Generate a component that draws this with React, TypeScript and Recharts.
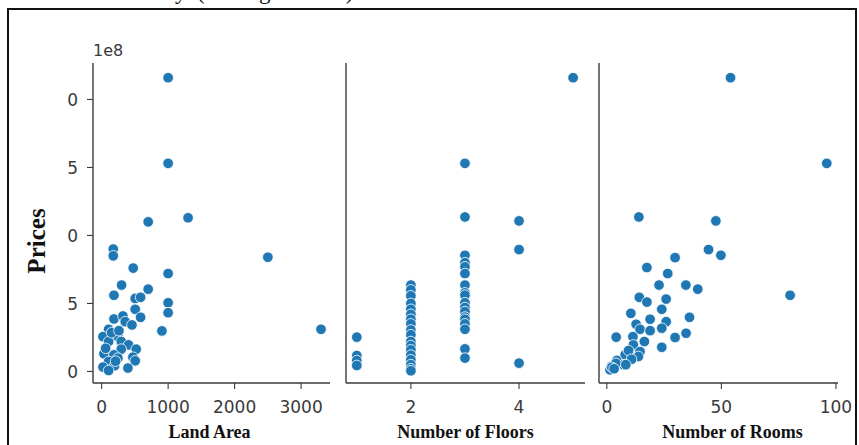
import React from 'react';
import { ScatterChart, Scatter, XAxis, YAxis } from 'recharts';

// Prices are in units of 1e8
const landArea = [1000, 1000, 1300, 700, 175, 175, 2500, 475, 1000, 300, 700, 185, 505, 586, 1000, 505, 1000, 586, 185, 320, 355, 456, 907, 3300, 105, 20, 245, 105, 295, 405, 520, 295, 35, 185, 470, 245, 105, 505, 20, 195, 395, 105, 150, 260, 60, 210];
const landPrice = [2.16, 1.53, 1.13, 1.1, 0.9, 0.85, 0.84, 0.76, 0.72, 0.635, 0.605, 0.56, 0.537, 0.545, 0.505, 0.457, 0.432, 0.398, 0.386, 0.408, 0.366, 0.342, 0.298, 0.31, 0.31, 0.256, 0.256, 0.22, 0.22, 0.195, 0.164, 0.164, 0.13, 0.122, 0.105, 0.098, 0.073, 0.078, 0.032, 0.042, 0.025, 0.007, 0.285, 0.3, 0.17, 0.075];

const floorCount = [1, 1, 1, 1, 2, 2, 2, 2, 2, 2, 2, 2, 2, 2, 2, 2, 2, 2, 2, 2, 2, 2, 3, 3, 3, 3, 3, 3, 3, 3, 3, 3, 3, 3, 3, 3, 3, 3, 3, 3, 4, 4, 4, 5];
const floorPrice = [0.252, 0.117, 0.08, 0.044, 0.635, 0.6, 0.556, 0.5, 0.457, 0.42, 0.384, 0.35, 0.305, 0.27, 0.22, 0.19, 0.159, 0.12, 0.086, 0.05, 0.02, 0.005, 1.53, 1.136, 0.854, 0.8, 0.769, 0.72, 0.635, 0.578, 0.561, 0.505, 0.47, 0.44, 0.4, 0.384, 0.35, 0.31, 0.166, 0.098, 1.107, 0.896, 0.061, 2.16];

const roomCount = [54, 96, 14, 47.6, 44.4, 49.8, 80, 29.8, 17.5, 26.6, 22.8, 34.5, 39.7, 14.2, 17.5, 25.9, 24, 10.5, 18.9, 36.1, 25.9, 12.8, 14.5, 18.9, 24, 4.1, 29.8, 34.6, 11.4, 16.4, 11.6, 24, 14.5, 8, 11.6, 4.4, 7.3, 1.4, 2, 4, 9.5, 13.8, 10.8, 2.2, 8.3, 3.2];
const roomPrice = [2.16, 1.53, 1.136, 1.107, 0.896, 0.854, 0.56, 0.837, 0.764, 0.72, 0.635, 0.635, 0.605, 0.545, 0.51, 0.532, 0.457, 0.427, 0.384, 0.398, 0.366, 0.347, 0.31, 0.3, 0.318, 0.252, 0.25, 0.281, 0.256, 0.22, 0.195, 0.178, 0.146, 0.122, 0.098, 0.081, 0.049, 0.012, 0.037, 0.06, 0.154, 0.11, 0.09, 0.03, 0.05, 0.02];

const landTicks = [0, 1000, 2000, 3000];
const floorTicks = [2, 4];
const roomTicks = [0, 50, 100];
const priceTicks = [0, 0.5, 1, 1.5, 2];
// the reference shows only the last character of each price tick label (cropped)
const priceTickLabels = ['0', '5', '0', '5', '0'];

const BLUE = '#1f77b4';
const AXIS = '#3a3a3a';
const TICK_FONT = 'DejaVu Sans';
const TITLE_FONT = '"Liberation Serif", "Times New Roman", serif';

const PLOT_TOP = 63;
const PLOT_BOTTOM = 383;
const XAXIS_H = 40;

const Dot = (p: any) => (
  <circle cx={p.cx} cy={p.cy} r={5.3} fill={BLUE} stroke="#fff" strokeWidth={0.8} />
);

const XTick = (p: any) => (
  <text x={p.x} y={p.y} dy={24} textAnchor="middle" fontFamily={TICK_FONT} fontSize={17} fill={AXIS}>
    {p.payload.value}
  </text>
);

const YTick = (p: any) => {
  const idx = priceTicks.indexOf(p.payload.value);
  return (
    <text x={p.x - 3} y={p.y} dy="0.36em" textAnchor="end" fontFamily={TICK_FONT} fontSize={17} fill={AXIS}>
      {priceTickLabels[idx]}
    </text>
  );
};

const XTitle = (p: any) => {
  const vb = p.viewBox || { x: 0, y: 0, width: 0, height: 0 };
  return (
    <text x={vb.x + vb.width / 2 + (p.shift || 0)} y={vb.y + 55} textAnchor="middle" fontFamily={TITLE_FONT} fontWeight="bold" fontSize={18} fill="#111">
      {p.text}
    </text>
  );
};

const YTitle = (p: any) => {
  const vb = p.viewBox || { x: 0, y: 0, width: 0, height: 0 };
  const cy = vb.y + vb.height / 2 + 18;
  return (
    <g>
      <text x={45} y={cy} transform={`rotate(-90, 45, ${cy})`} textAnchor="middle" fontFamily={TITLE_FONT} fontWeight="bold" fontSize={25} fill="#111">
        Prices
      </text>
      <text x={93} y={56} textAnchor="start" fontFamily={TICK_FONT} fontSize={16} fill={AXIS}>
        1e8
      </text>
    </g>
  );
};

type PanelProps = {
  left: number;
  width: number;
  plotLeft: number;
  plotRight: number;
  yAxisW: number;
  xs: number[];
  ys: number[];
  xDomain: [number, number];
  xTicks: number[];
  title: string;
  titleShift: number;
  first?: boolean;
};

const Panel = ({ left, width, plotLeft, plotRight, yAxisW, xs, ys, xDomain, xTicks, title, titleShift, first }: PanelProps) => {
  const data = xs.map((x, i) => ({ x, y: ys[i] }));
  const mLeft = plotLeft - left - yAxisW;
  const mRight = left + width - plotRight;
  return (
    <div style={{ position: 'absolute', left, top: 0 }}>
      <ScatterChart width={width} height={445} margin={{ top: PLOT_TOP, bottom: 445 - PLOT_BOTTOM - XAXIS_H, left: mLeft, right: mRight }}>
        <XAxis
          type="number"
          dataKey="x"
          domain={xDomain}
          ticks={xTicks}
          allowDataOverflow
          height={XAXIS_H}
          tickSize={6}
          tickMargin={0}
          axisLine={{ stroke: AXIS, strokeWidth: 1.4 }}
          tickLine={{ stroke: AXIS, strokeWidth: 1.1 }}
          tick={<XTick />}
          label={<XTitle text={title} shift={titleShift} />}
        />
        <YAxis
          type="number"
          dataKey="y"
          domain={[-0.085, 2.268]}
          ticks={priceTicks}
          allowDataOverflow
          width={yAxisW}
          tickSize={6}
          tickMargin={6}
          axisLine={{ stroke: AXIS, strokeWidth: 1.4 }}
          tickLine={{ stroke: AXIS, strokeWidth: 1.1 }}
          tick={first ? <YTick /> : false}
          label={first ? <YTitle /> : undefined}
        />
        <Scatter data={data} shape={Dot} isAnimationActive={false} />
      </ScatterChart>
    </div>
  );
};

export default function App() {
  return (
    <div style={{ position: 'absolute', left: 0, top: 0, width: 859, height: 445, background: '#fff', overflow: 'hidden' }}>
      <svg width={859} height={8} style={{ position: 'absolute', left: 0, top: 0 }}>
        <text y={-1} fontFamily={TITLE_FONT} fontSize={23} fill="#111">
          <tspan x={101}>summary</tspan>
          <tspan x={197}>(see Figure 4.10)</tspan>
        </text>
      </svg>
      <div style={{ position: 'absolute', left: 7, top: 8, width: 850, height: 460, border: '2px solid #111', boxSizing: 'border-box' }} />
      <Panel left={0} width={340} plotLeft={93} plotRight={330} yAxisW={80} xs={landArea} ys={landPrice} xDomain={[-130, 3435]} xTicks={landTicks} title="Land Area" titleShift={-2} first />
      <Panel left={338} width={257} plotLeft={346} plotRight={585} yAxisW={6} xs={floorCount} ys={floorPrice} xDomain={[0.8, 5.22]} xTicks={floorTicks} title="Number of Floors" titleShift={0} />
      <Panel left={591} width={268} plotLeft={599} plotRight={838} yAxisW={6} xs={roomCount} ys={roomPrice} xDomain={[-3.4, 100.9]} xTicks={roomTicks} title="Number of Rooms" titleShift={14} />
    </div>
  );
}
